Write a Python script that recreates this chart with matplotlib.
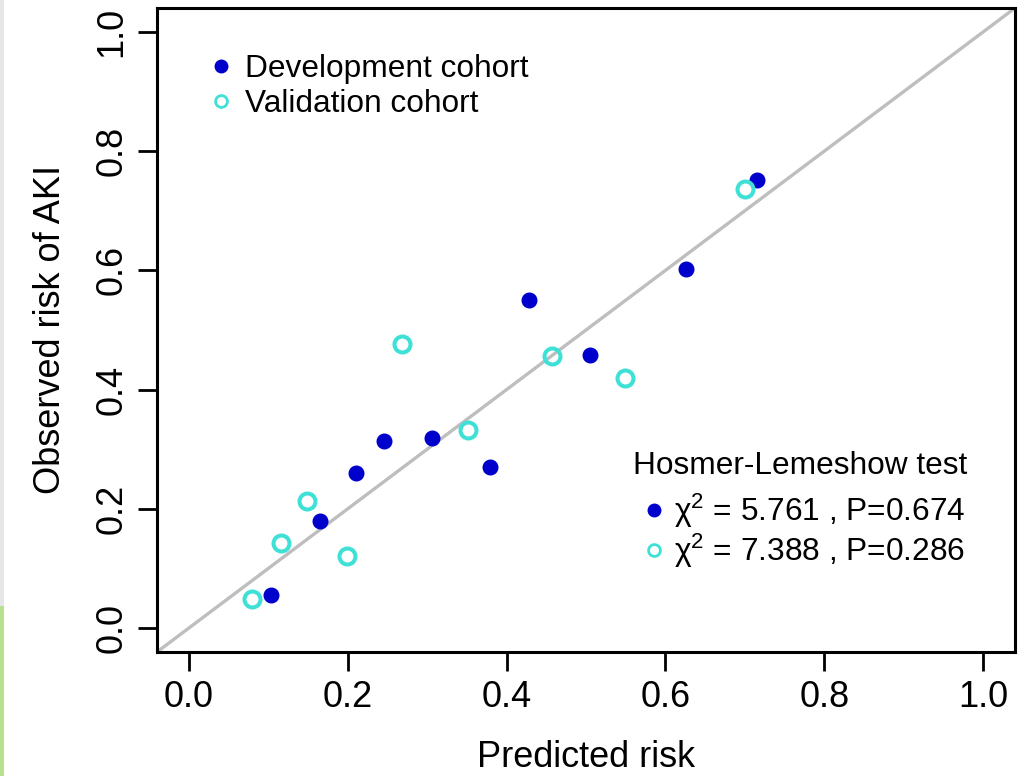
import numpy as np
import matplotlib
matplotlib.use("Agg")
import matplotlib.pyplot as plt
from matplotlib.lines import Line2D
from matplotlib.patches import Rectangle

plt.rcParams['font.family'] = ['Liberation Sans', 'DejaVu Sans']
plt.rcParams['mathtext.fontset'] = 'custom'
plt.rcParams['mathtext.rm'] = 'Liberation Sans'
plt.rcParams['mathtext.it'] = 'Liberation Sans:italic'

# calibration points
dev_pred = [0.103, 0.165, 0.210, 0.246, 0.306, 0.379, 0.428, 0.505, 0.626, 0.715]
dev_obs = [0.055, 0.179, 0.261, 0.314, 0.319, 0.270, 0.551, 0.458, 0.602, 0.752]
val_pred = [0.080, 0.116, 0.149, 0.199, 0.269, 0.351, 0.457, 0.549, 0.700]
val_obs = [0.049, 0.143, 0.213, 0.121, 0.476, 0.333, 0.456, 0.419, 0.736]

ticks = [0.0, 0.2, 0.4, 0.6, 0.8, 1.0]
tick_labels = ["0.0", "0.2", "0.4", "0.6", "0.8", "1.0"]
hl_labels = ["\u03c7$^{2}$ = 5.761 , P=0.674", "\u03c7$^{2}$ = 7.388 , P=0.286"]

dev_col = '#0000CD'
val_col = '#3FE0D6'
fs_leg = 22.8

fig = plt.figure(figsize=(10.28, 7.76), dpi=100)
ax = fig.add_axes([0.1527, 0.1598, 0.8347, 0.8299])

# perfect calibration line
ax.plot([-0.04, 1.04], [-0.04, 1.04], color='#BEBEBE', lw=2.4, zorder=1)

ax.plot(dev_pred, dev_obs, 'o', color=dev_col, ms=10.5, mec=dev_col, zorder=3)
ax.plot(val_pred, val_obs, 'o', mfc='none', mec=val_col, ms=11.5, mew=2.9, zorder=3)

ax.set_xlim(-0.04, 1.04)
ax.set_ylim(-0.04, 1.04)
ax.set_xticks(ticks)
ax.set_xticklabels(tick_labels)
ax.set_yticks(ticks)
ax.set_yticklabels(tick_labels, rotation=90, va='center')
ax.tick_params(length=14, width=2, labelsize=26, pad=6)
for s in ax.spines.values():
    s.set_linewidth(2.2)

ax.set_xlabel("Predicted risk", fontsize=26, labelpad=18)
ax.set_ylabel("Observed risk of AKI", fontsize=26, labelpad=19)

# legend for cohorts
h_dev = Line2D([], [], marker='o', ls='none', color=dev_col, ms=9)
h_val = Line2D([], [], marker='o', ls='none', mfc='none', mec=val_col, ms=8.5, mew=2)
leg1 = ax.legend([h_dev, h_val], ["Development cohort", "Validation cohort"],
                 loc='upper left', bbox_to_anchor=(0.057, 0.929), frameon=False,
                 fontsize=fs_leg, handlelength=0.95, handletextpad=0.3,
                 labelspacing=0.18, borderpad=0, borderaxespad=0)
ax.add_artist(leg1)

# Hosmer-Lemeshow block
ax.text(0.749, 0.289, "Hosmer-Lemeshow test", transform=ax.transAxes,
        ha='center', va='center', fontsize=fs_leg)
leg2 = ax.legend([h_dev, h_val], hl_labels,
                 loc='upper left', bbox_to_anchor=(0.562, 0.249), frameon=False,
                 fontsize=fs_leg, handlelength=0.95, handletextpad=0.15,
                 labelspacing=0.07, borderpad=0, borderaxespad=0)

# thin strip at the left edge of the screenshot
fig.add_artist(Rectangle((0, 0.219), 0.004, 0.781, transform=fig.transFigure,
                         color='#E6E6E6', lw=0))
fig.add_artist(Rectangle((0, 0), 0.004, 0.219, transform=fig.transFigure,
                         color='#B7DF8C', lw=0))

fig.savefig("out.png", dpi=100)
